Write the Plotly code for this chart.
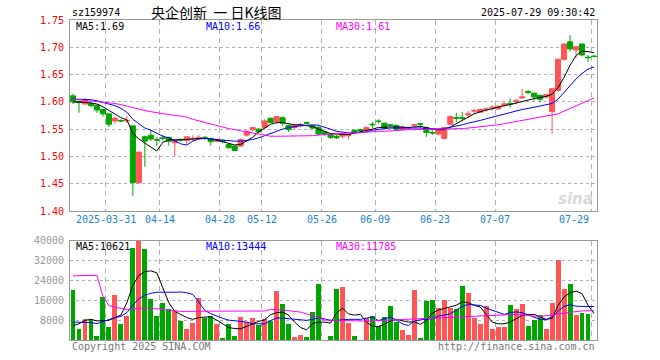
import plotly.graph_objects as go

dates = ["03-21","03-24","03-25","03-26","03-27","03-28","03-31",
         "04-01","04-02","04-03","04-07","04-08","04-09","04-10","04-11","04-14","04-15","04-16","04-17","04-18",
         "04-21","04-22","04-23","04-24","04-25","04-28","04-29","04-30",
         "05-06","05-07","05-08","05-09","05-12","05-13","05-14","05-15","05-16","05-19","05-20","05-21","05-22","05-23",
         "05-26","05-27","05-28","05-29","05-30",
         "06-03","06-04","06-05","06-06","06-09","06-10","06-11","06-12","06-13","06-16","06-17","06-18","06-19","06-20",
         "06-23","06-24","06-25","06-26","06-27","06-30",
         "07-01","07-02","07-03","07-04","07-07","07-08","07-09","07-10","07-11","07-14","07-15","07-16","07-17","07-18",
         "07-21","07-22","07-23","07-24","07-25","07-28","07-29"]

opens = [1.611,1.601,1.596,1.597,1.594,1.586,1.578,1.565,1.566,1.565,
         1.556,1.452,1.536,1.539,1.531,1.534,1.535,1.525,1.531,1.529,
         1.532,1.533,1.535,1.533,1.528,1.529,1.522,1.519,1.519,1.539,
         1.549,1.550,1.553,1.570,1.564,1.571,1.557,1.553,1.557,1.562,
         1.556,1.553,1.545,1.541,1.537,1.537,1.538,1.548,1.549,1.548,
         1.559,1.565,1.561,1.558,1.557,1.549,1.552,1.557,1.560,1.553,
         1.544,1.541,1.533,1.559,1.571,1.571,1.576,1.583,1.581,1.586,
         1.589,1.587,1.594,1.597,1.600,1.607,1.619,1.616,1.612,1.609,
         1.582,1.621,1.678,1.710,1.695,1.706,1.682,1.684]
highs = [1.615,1.602,1.607,1.599,1.595,1.587,1.579,1.573,1.568,1.574,
         1.556,1.508,1.538,1.548,1.536,1.539,1.536,1.531,1.533,1.537,
         1.539,1.539,1.537,1.534,1.532,1.531,1.523,1.520,1.533,1.548,
         1.554,1.552,1.568,1.571,1.574,1.573,1.558,1.558,1.561,1.564,
         1.557,1.558,1.546,1.542,1.539,1.541,1.541,1.549,1.551,1.555,
         1.563,1.568,1.562,1.559,1.558,1.557,1.555,1.559,1.561,1.554,
         1.548,1.551,1.554,1.575,1.580,1.582,1.583,1.587,1.587,1.590,
         1.594,1.593,1.600,1.606,1.606,1.624,1.622,1.617,1.613,1.615,
         1.625,1.679,1.707,1.722,1.703,1.707,1.686,1.685]
lows = [1.596,1.580,1.595,1.590,1.580,1.573,1.554,1.560,1.563,1.561,
        1.428,1.450,1.481,1.528,1.519,1.529,1.520,1.500,1.527,1.522,
        1.528,1.531,1.530,1.520,1.526,1.524,1.514,1.510,1.518,1.536,
        1.546,1.543,1.550,1.561,1.559,1.556,1.545,1.549,1.553,1.559,
        1.550,1.539,1.538,1.532,1.532,1.533,1.531,1.543,1.545,1.546,
        1.552,1.560,1.550,1.554,1.548,1.548,1.549,1.552,1.552,1.536,
        1.539,1.539,1.531,1.558,1.564,1.565,1.571,1.578,1.580,1.582,
        1.584,1.586,1.590,1.590,1.595,1.606,1.614,1.602,1.599,1.606,
        1.541,1.618,1.676,1.692,1.680,1.683,1.673,1.682]
closes = [1.600,1.599,1.602,1.593,1.585,1.578,1.559,1.570,1.565,1.566,
          1.452,1.508,1.528,1.532,1.530,1.533,1.528,1.530,1.530,1.536,
          1.533,1.535,1.534,1.527,1.531,1.528,1.516,1.511,1.531,1.546,
          1.553,1.545,1.565,1.562,1.573,1.561,1.549,1.557,1.558,1.561,
          1.552,1.541,1.541,1.535,1.534,1.540,1.540,1.544,1.548,1.553,
          1.558,1.564,1.553,1.557,1.550,1.554,1.553,1.558,1.559,1.544,
          1.543,1.550,1.553,1.573,1.570,1.570,1.578,1.584,1.586,1.587,
          1.590,1.592,1.596,1.596,1.602,1.609,1.617,1.609,1.605,1.613,
          1.624,1.678,1.706,1.697,1.701,1.686,1.681,1.683]

price_ma5 = [1.600,1.600,1.599,1.598,1.596,1.591,1.584,1.577,1.571,1.567,
             1.542,1.532,1.524,1.517,1.510,1.526,1.530,1.530,1.530,1.531,
             1.532,1.533,1.533,1.532,1.530,1.527,1.524,1.521,1.522,1.528,
             1.535,1.545,1.552,1.559,1.562,1.562,1.560,1.558,1.558,1.557,
             1.555,1.550,1.546,1.542,1.541,1.540,1.540,1.543,1.545,1.547,
             1.550,1.553,1.554,1.554,1.554,1.553,1.553,1.554,1.555,1.553,
             1.550,1.549,1.549,1.554,1.560,1.567,1.572,1.578,1.582,1.585,
             1.588,1.590,1.593,1.595,1.598,1.601,1.604,1.606,1.608,1.610,
             1.614,1.626,1.645,1.667,1.685,1.693,1.692,1.690]
price_ma10 = [1.605,1.605,1.605,1.604,1.602,1.599,1.596,1.593,1.588,1.581,
              1.568,1.560,1.552,1.548,1.543,1.537,1.534,1.529,1.523,1.521,
              1.528,1.532,1.533,1.532,1.531,1.529,1.528,1.528,1.528,1.529,
              1.531,1.534,1.538,1.543,1.547,1.550,1.553,1.555,1.556,1.557,
              1.558,1.557,1.554,1.550,1.546,1.544,1.543,1.543,1.544,1.545,
              1.548,1.550,1.551,1.552,1.552,1.553,1.553,1.553,1.552,1.551,
              1.550,1.550,1.551,1.553,1.555,1.558,1.561,1.563,1.566,1.569,
              1.572,1.575,1.578,1.581,1.584,1.586,1.588,1.590,1.592,1.594,
              1.597,1.605,1.618,1.630,1.642,1.652,1.660,1.664]
price_ma30 = [1.605,1.604,1.603,1.601,1.600,1.599,1.598,1.597,1.595,1.592,
              1.589,1.586,1.584,1.582,1.580,1.578,1.576,1.575,1.574,1.572,
              1.568,1.565,1.562,1.560,1.557,1.554,1.551,1.549,1.547,1.545,
              1.543,1.540,1.538,1.537,1.537,1.537,1.537,1.537,1.537,1.538,
              1.538,1.539,1.540,1.541,1.541,1.542,1.543,1.543,1.544,1.544,
              1.545,1.546,1.546,1.547,1.548,1.548,1.549,1.549,1.550,1.550,
              1.550,1.550,1.550,1.551,1.551,1.551,1.552,1.553,1.554,1.555,
              1.556,1.558,1.560,1.562,1.564,1.566,1.568,1.570,1.572,1.573,
              1.575,1.578,1.583,1.588,1.593,1.598,1.603,1.607]

volumes = [20000,4240,8280,8280,1410,17170,5050,17980,6260,9500,
           36970,40000,36570,16370,9500,14750,12330,11520,7480,4240,
           6670,16770,8690,9500,6260,610,6260,1410,9090,7070,
           8690,5860,8280,7480,19600,14350,6260,1010,1820,1010,
           11110,22430,200,1410,20400,21220,6670,1410,200,8690,
           9500,5460,9090,13540,7070,3840,1820,20000,610,15560,
           15960,12730,15960,12730,12330,21620,18790,8690,6260,13540,
           4240,5050,5050,13940,12330,14350,5460,7880,9900,4240,
           14750,32130,20400,22430,9900,10710,10300,200]
vol_ma5 = [5800,6500,7900,8300,7700,7800,7900,9000,10000,15000,
           22000,26000,27500,27800,27000,21000,15000,11500,10200,9000,
           8300,9000,9200,9300,8000,6500,5000,4600,4500,5500,
           6500,7500,8100,10200,11000,11200,10000,7200,5000,4100,
           6600,7200,7200,6800,10800,12800,10500,10000,10300,7200,
           5500,5400,6300,7600,8300,7600,7200,7300,6300,7800,
           10800,12000,12600,13300,14000,15300,15000,13900,13300,10300,
           7200,6500,6500,7200,8500,9900,10200,10300,9300,8300,
           8700,13900,17300,19000,19700,18600,14000,10621]
vol_ma10 = [7200,7200,7200,7000,6600,7400,8500,9000,9500,11000,
            14000,16600,18000,18800,19200,19300,19200,19200,19300,19000,
            18300,15300,11900,10600,9500,8700,8000,7800,7400,7200,
            6500,6500,6500,7800,8900,8800,8600,8500,8200,7900,
            8300,8900,8500,7900,7900,8200,8300,8300,8300,8800,
            9200,7800,8600,9200,8000,6500,5800,7600,8100,8400,
            8600,9600,10000,10500,12000,13500,14300,14100,13900,12800,
            12000,11300,10300,11000,11300,11000,10000,9000,8300,8200,
            9300,11600,13500,14200,13600,13500,13500,13444]
vol_ma30 = [25800,25800,25800,25800,26000,17500,13800,13200,12800,12300,
            12600,12800,12800,12700,12600,12300,12000,11700,11500,11500,
            11600,11600,11600,11600,11600,11600,11550,11500,11500,11500,
            11500,11600,11650,12300,12300,12000,11800,11500,11200,10500,
            9900,9000,8000,7900,7900,7800,7700,7650,7600,7600,
            7700,7800,7850,7900,7950,8000,8100,8200,8350,8500,
            8550,8650,8800,8950,9100,9250,9400,9550,9700,9850,
            10000,10050,10150,10250,10300,10200,9800,9600,9500,9600,
            10000,10500,10800,11200,11600,11700,11750,11785]

tick_dates = ["03-31","04-14","04-28","05-12","05-26","06-09","06-23","07-07","07-29"]
tick_labels = ["2025-03-31","04-14","04-28","05-12","05-26","06-09","06-23","07-07","07-29"]
price_ticks = [1.40,1.45,1.50,1.55,1.60,1.65,1.70,1.75]
vol_ticks = [8000,16000,24000,32000,40000]

RED = "#ff5555"
GREEN = "#00a600"
MONO = "DejaVu Sans Mono"

idx = list(range(len(dates)))
bar_colors = [RED if c >= o else GREEN for o, c in zip(opens, closes)]

fig = go.Figure()
fig.add_trace(go.Candlestick(
    x=idx, open=opens, high=highs, low=lows, close=closes,
    increasing=dict(line=dict(color=RED, width=1), fillcolor=RED),
    decreasing=dict(line=dict(color=GREEN, width=1), fillcolor=GREEN),
    whiskerwidth=0, xaxis="x", yaxis="y", showlegend=False, hoverinfo="skip"))
for vals, col in [(price_ma5, "#000000"), (price_ma10, "#0000ff"), (price_ma30, "#ff00ff")]:
    fig.add_trace(go.Scatter(x=idx, y=vals, mode="lines", line=dict(color=col, width=1),
                             xaxis="x", yaxis="y", showlegend=False, hoverinfo="skip"))

fig.add_trace(go.Bar(x=idx, y=volumes, marker=dict(color=bar_colors, line=dict(width=0)),
                     width=0.82, xaxis="x2", yaxis="y2", showlegend=False, hoverinfo="skip"))
for vals, col in [(vol_ma5, "#000000"), (vol_ma10, "#0000ff"), (vol_ma30, "#ff00ff")]:
    fig.add_trace(go.Scatter(x=idx, y=vals, mode="lines", line=dict(color=col, width=1),
                             xaxis="x2", yaxis="y2", showlegend=False, hoverinfo="skip"))

grid_x = [dates.index(d) - 0.5 for d in tick_dates]

L, R, T, B = 70, 597, 20, 340
def px(x):
    return (x - L) / (R - L)
def py(y):
    return (B - y) / (B - T)

xcommon = dict(range=[-0.5, len(dates) - 0.5], tickvals=grid_x, showticklabels=False,
               showgrid=True, gridcolor="#b0b0b0", griddash="5px,4px", gridwidth=1,
               showline=True, mirror=True, linecolor="#999999", linewidth=1,
               zeroline=False, ticks="", fixedrange=True)

fig.update_layout(
    width=660, height=360,
    margin=dict(l=L, r=660 - R, t=T, b=360 - B, autoexpand=False),
    paper_bgcolor="white", plot_bgcolor="white",
    boxgap=0.15, boxgroupgap=0,
    bargap=0,
    xaxis=dict(**xcommon, anchor="y", rangeslider=dict(visible=False)),
    xaxis2=dict(**xcommon, anchor="y2"),
    yaxis=dict(domain=[py(211), 1], range=[1.40, 1.75], tickvals=price_ticks,
               tickformat=".2f", tickfont=dict(family=MONO, size=10, color="#ff0000"),
               showgrid=True, gridcolor="#b0b0b0", griddash="dot", gridwidth=1,
               showline=True, mirror=True, linecolor="#999999", linewidth=1,
               zeroline=False, ticks="outside", ticklen=3, tickcolor="rgba(0,0,0,0)",
               fixedrange=True),
    yaxis2=dict(domain=[0, py(240.5)], range=[0, 40000], tickvals=vol_ticks,
                tickformat="d", tickfont=dict(family=MONO, size=10, color="#999999"),
                showgrid=True, gridcolor="#b0b0b0", griddash="dot", gridwidth=1,
                showline=True, mirror=True, linecolor="#999999", linewidth=1,
                zeroline=False, ticks="outside", ticklen=3, tickcolor="rgba(0,0,0,0)",
                fixedrange=True),
)

ann = []
def text(x, y, s, color="#000000", xanchor="left", size=10, family=MONO):
    ann.append(dict(x=px(x), y=py(y), xref="paper", yref="paper", text=s, showarrow=False,
                    xanchor=xanchor, yanchor="middle", font=dict(family=family, size=size, color=color)))

text(70, 12, "sz159974")
text(149, 12, "央企创新\u00a0\u00a0一\u00a0日K线图", size=14, family="Noto Sans CJK SC")
text(597, 12, "2025-07-29 09:30:42", xanchor="right")
text(74, 26, f"MA5:{price_ma5[-1]:.2f}")
text(204, 26, f"MA10:{price_ma10[-1]:.2f}", color="#0000ff")
text(334, 26, f"MA30:{price_ma30[-1]:.2f}", color="#ff00ff")
text(74, 246, f"MA5:{vol_ma5[-1]}")
text(204, 246, f"MA10:{vol_ma10[-1]}", color="#0000ff")
text(334, 246, f"MA30:{vol_ma30[-1]}", color="#ff00ff")
text(70, 346, "Copyright 2025 SINA.COM", color="#777777")
text(597, 346, "http://finance.sina.com.cn", color="#777777", xanchor="right")
text(595, 199, "<b><i>sina</i></b>", color="#d8d8d8", xanchor="right", size=15, family="DejaVu Sans")

for gx, lab in zip(grid_x, tick_labels):
    last = gx == grid_x[-1]
    ann.append(dict(x=gx, y=py(219), xref="x", yref="paper", text=lab, showarrow=False,
                    xanchor="right" if last else "center", yanchor="middle",
                    font=dict(family=MONO, size=10, color="#1a84d4")))

fig.update_layout(annotations=ann)
fig.write_html("out.html", config={"displayModeBar": False, "staticPlot": True},
               post_script="document.body.style.margin='0px';document.body.style.overflow='hidden';")
